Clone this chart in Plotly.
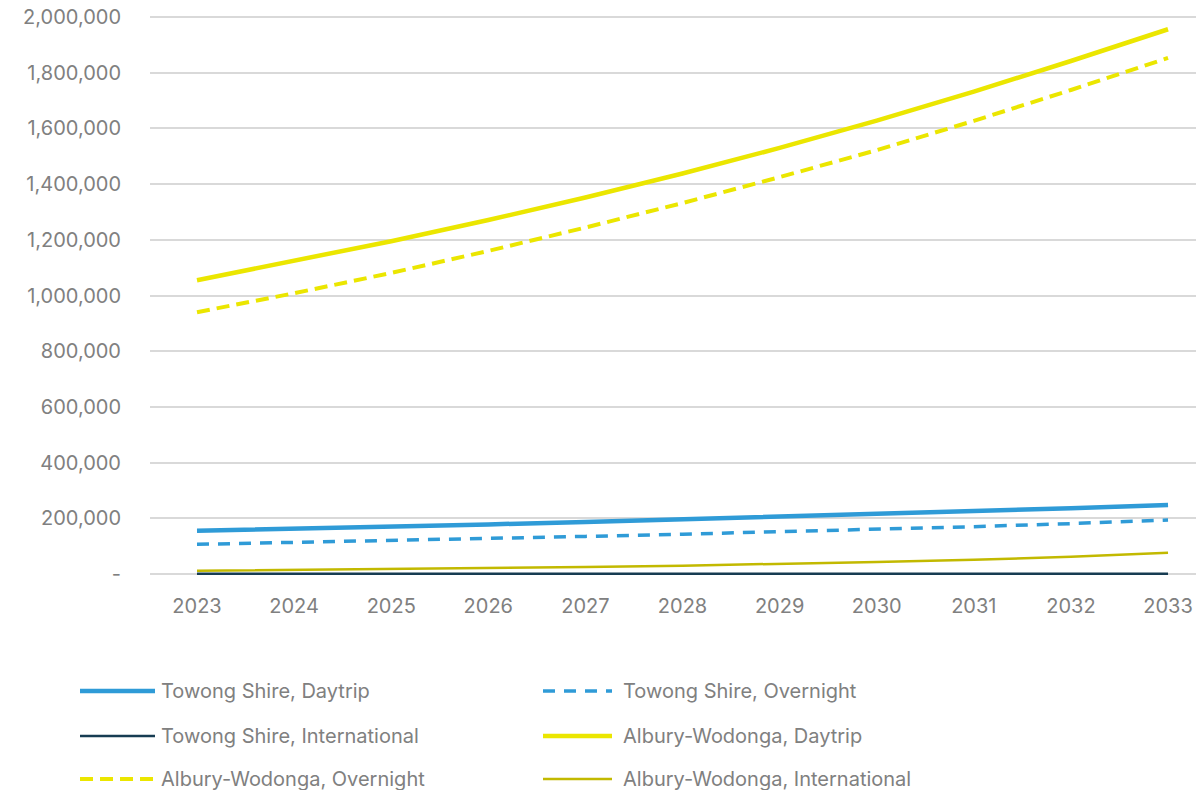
import plotly.graph_objects as go

years = [2023, 2024, 2025, 2026, 2027, 2028, 2029, 2030, 2031, 2032, 2033]

towong_daytrip = [155500, 162000, 170000, 178000, 187000, 196000, 205000, 215000, 225000, 236000, 248000]
towong_overnight = [106500, 113000, 120000, 127000, 135000, 143000, 151000, 160000, 170000, 181000, 194000]
towong_international = [800, 850, 900, 950, 1000, 1050, 1100, 1150, 1200, 1250, 1300]
albury_daytrip = [1055000, 1123000, 1195000, 1271000, 1352000, 1438000, 1530000, 1628000, 1732000, 1842000, 1956000]
albury_overnight = [940000, 1008000, 1081000, 1160000, 1244000, 1332000, 1425000, 1522000, 1627000, 1738000, 1853000]
albury_international = [11800, 14500, 17500, 21000, 25000, 30000, 36000, 43000, 51000, 62000, 76500]

series_names = [
    "Towong Shire, Daytrip", "Towong Shire, Overnight",
    "Towong Shire, International", "Albury-Wodonga, Daytrip",
    "Albury-Wodonga, Overnight", "Albury-Wodonga, International",
]
series_values = [towong_daytrip, towong_overnight, towong_international,
                 albury_daytrip, albury_overnight, albury_international]

y_tickvals = [0, 200000, 400000, 600000, 800000, 1000000, 1200000, 1400000, 1600000, 1800000, 2000000]
y_ticktext = ["-", "200,000", "400,000", "600,000", "800,000", "1,000,000", "1,200,000",
              "1,400,000", "1,600,000", "1,800,000", "2,000,000"]

BLUE = "#2f9bd7"
NAVY = "#173c52"
YELLOW = "#ebe600"
OLIVE = "#c2b900"
TEXT = "#808080"
FONT = "Inter"

styles = [
    dict(color=BLUE, width=4.5, dash="solid"),
    dict(color=BLUE, width=3.5, dash="12px,9px"),
    dict(color=NAVY, width=2.5, dash="solid"),
    dict(color=YELLOW, width=4.5, dash="solid"),
    dict(color=YELLOW, width=4, dash="13px,7px"),
    dict(color=OLIVE, width=2.5, dash="solid"),
]

fig = go.Figure()
draw_order = [5, 2, 1, 0, 4, 3]
for i in draw_order:
    fig.add_trace(go.Scatter(
        x=years, y=series_values[i], mode="lines", name=series_names[i],
        line=dict(color=styles[i]["color"], width=styles[i]["width"], dash=styles[i]["dash"]),
        showlegend=False,
    ))

# plot area geometry (pixels)
W, H = 1196, 790
L, R, T, B = 150, 0, 13, 212
plot_h = H - T - B
plot_w = W - L - R

def px_to_paper(px, py):
    return (px - L) / plot_w, (H - B - py) / plot_h

# manual legend
legend_rows = [691, 736, 779]
legend_cols = [(80, 155, 159), (543, 612, 621)]
for k, name in enumerate(series_names):
    row, col = divmod(k, 2)
    x0, x1, xt = legend_cols[col]
    py = legend_rows[row]
    st = styles[k]
    ax0, ay = px_to_paper(x0, py)
    ax1, _ = px_to_paper(x1, py)
    fig.add_shape(type="line", xref="paper", yref="paper", x0=ax0, x1=ax1, y0=ay, y1=ay,
                  line=dict(color=st["color"], width=st["width"], dash=st["dash"]))
    tx, _ = px_to_paper(xt, py)
    fig.add_annotation(xref="paper", yref="paper", x=tx, y=ay, text=name, showarrow=False,
                       xanchor="left", yanchor="middle",
                       font=dict(family=FONT, size=20, color=TEXT))

fig.update_layout(
    width=W, height=H,
    margin=dict(l=L, r=R, t=T, b=B, pad=0),
    paper_bgcolor="white", plot_bgcolor="white",
    font=dict(family=FONT, size=20, color=TEXT),
    showlegend=False,
)
fig.update_xaxes(
    range=[2022.516, 2033.288], tickvals=years, ticktext=[str(y) for y in years],
    showgrid=False, zeroline=False, showline=False, ticks="",
    ticklabelstandoff=14, tickfont=dict(family=FONT, size=20, color=TEXT),
)
fig.update_yaxes(
    range=[-14363, 2014363], tickvals=y_tickvals, ticktext=y_ticktext,
    showgrid=True, gridcolor="#d9d9d9", gridwidth=1.5, zeroline=False, showline=False,
    ticks="", ticklabelstandoff=28, tickfont=dict(family=FONT, size=20, color=TEXT),
)

fig.write_html("out.html")
